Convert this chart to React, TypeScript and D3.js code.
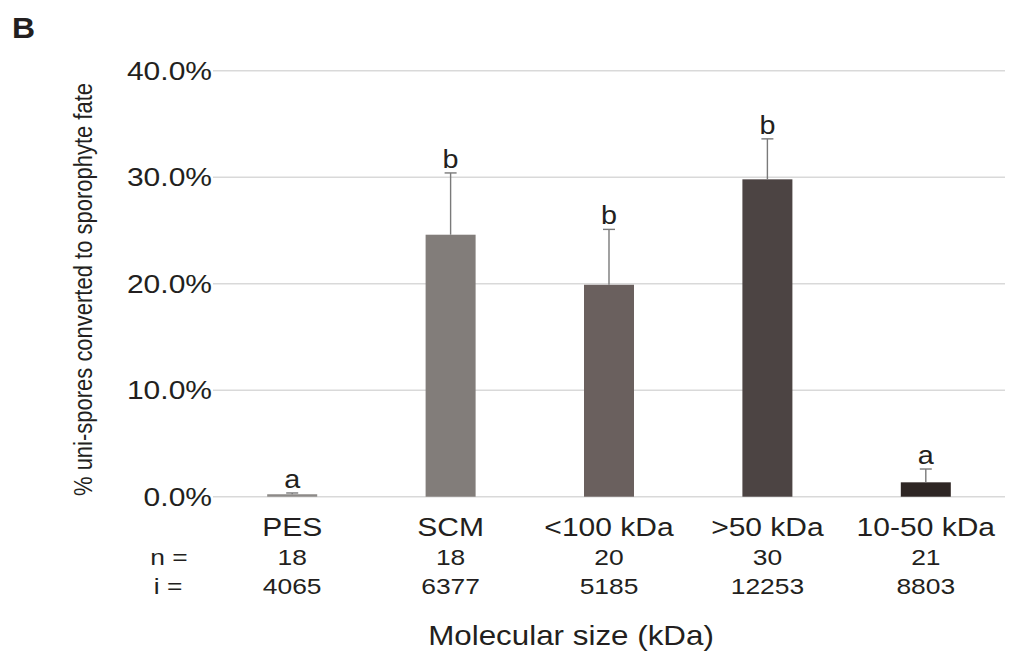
import React, { useEffect, useRef } from 'react';
import * as d3 from 'd3';

const categories = ['PES', 'SCM', '<100 kDa', '>50 kDa', '10-50 kDa'];
const means = [0.23, 24.6, 19.9, 29.8, 1.35];
const errTops = [0.35, 30.4, 25.1, 33.6, 2.6];
const letters = ['a', 'b', 'b', 'b', 'a'];
const nValues = ['18', '18', '20', '30', '21'];
const iValues = ['4065', '6377', '5185', '12253', '8803'];
const barColors = ['#8d8a88', '#827d7a', '#6a605e', '#4c4443', '#2e2624'];
const yTicks = [0, 10, 20, 30, 40];

const FONT = '"Liberation Sans", Arial, Helvetica, sans-serif';
const INK = '#231f20';
const SX = 1.2; // the figure is stretched horizontally

const App = () => {
  const ref = useRef<SVGSVGElement>(null);

  useEffect(() => {
    const svg = d3.select(ref.current);
    svg.selectAll('*').remove();

    const left = 213, right = 1005;
    const y = d3.scaleLinear().domain([0, 40]).range([496.7, 70.7]);
    const x = d3.scalePoint<string>().domain(categories).range([left, right]).padding(0.5);
    const barW = 50;

    // helper for horizontally stretched text
    const txt = (g: any, tx: number, ty: number, s: string, size: number, anchor = 'middle', weight = 'normal', sx = SX) =>
      g.append('text')
        .attr('transform', `translate(${tx},${ty}) scale(${sx},1)`)
        .attr('text-anchor', anchor)
        .attr('font-family', FONT)
        .attr('font-size', size)
        .attr('font-weight', weight)
        .attr('fill', INK)
        .text(s);

    // gridlines
    svg.append('g')
      .selectAll('line')
      .data(yTicks)
      .join('line')
        .attr('x1', left)
        .attr('x2', right)
        .attr('y1', d => y(d))
        .attr('y2', d => y(d))
        .attr('stroke', '#d9d9d9')
        .attr('stroke-width', 1.5);

    // y tick labels
    const yl = svg.append('g');
    yTicks.forEach(t => txt(yl, 212, y(t) + 9, `${t.toFixed(1)}%`, 25, 'end'));

    // bars
    svg.append('g')
      .selectAll('rect')
      .data(categories)
      .join('rect')
        .attr('x', d => x(d)! - barW / 2)
        .attr('y', (d, i) => y(means[i]))
        .attr('width', barW)
        .attr('height', (d, i) => y(0) - y(means[i]))
        .attr('fill', (d, i) => barColors[i]);

    // error bars (upper only)
    const eb = svg.append('g').attr('stroke', '#7a7a7a').attr('stroke-width', 1.4);
    categories.forEach((c, i) => {
      const cx = x(c)!;
      eb.append('line').attr('x1', cx).attr('x2', cx).attr('y1', y(means[i])).attr('y2', y(errTops[i]));
      eb.append('line').attr('x1', cx - 6).attr('x2', cx + 6).attr('y1', y(errTops[i])).attr('y2', y(errTops[i]));
    });

    // significance letters
    const lg = svg.append('g');
    categories.forEach((c, i) => txt(lg, x(c)!, y(errTops[i]) - 5, letters[i], 25, 'middle', 'normal', 1.15));

    // category labels and n / i rows
    const cg = svg.append('g');
    categories.forEach((c, i) => {
      txt(cg, x(c)!, 535.5, c, 25);
      txt(cg, x(c)!, 564.5, nValues[i], 22);
      txt(cg, x(c)!, 593.5, iValues[i], 22);
    });
    txt(cg, 169, 564.5, 'n =', 22);
    txt(cg, 168, 593.5, 'i =', 22);

    // axis titles
    txt(svg, 571, 645, 'Molecular size (kDa)', 28, 'middle', 'normal', 1.12);
    svg.append('text')
      .attr('transform', `translate(92,289.5) scale(${SX},1) rotate(-90)`)
      .attr('text-anchor', 'middle')
      .attr('font-family', FONT)
      .attr('font-size', 22)
      .attr('fill', INK)
      .text('% uni-spores converted to sporophyte fate');

    // panel letter
    txt(svg, 12, 38, 'B', 29, 'start', 'bold', 1.1);
  }, []);

  return (
    <svg ref={ref} width="1017" height="655" style={{ position: 'absolute', left: 0, top: 0, background: '#fff' }}></svg>
  );
};

export default App;
